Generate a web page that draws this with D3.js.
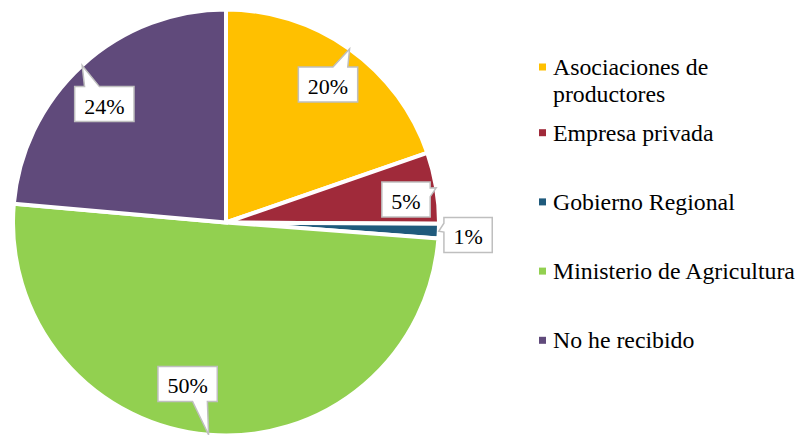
<!DOCTYPE html>
<html><head><meta charset="utf-8"><script src="https://cdn.jsdelivr.net/npm/d3@7"></script></head>
<body style="margin:0; font-family: 'Liberation Serif', Tinos, FreeSerif, serif;">
<svg id="piefig" width="803" height="435" style="font-family: 'Liberation Serif', Tinos, FreeSerif, serif;"></svg>
<script>
// ---- data ----
const categories = ["Asociaciones de productores", "Empresa privada", "Gobierno Regional", "Ministerio de Agricultura", "No he recibido"];
const legendLines = [["Asociaciones de", "productores"], ["Empresa privada"], ["Gobierno Regional"], ["Ministerio de Agricultura"], ["No he recibido"]];
const values = [19.7, 5.4, 1.1, 50.2, 23.6];
const colors = ["#FFC000", "#A02A3A", "#1F5A7C", "#92D050", "#604A7B"];

// ---- layout (style) ----
const cx = 226, cy = 222.5, R = 213;
// label placement: [radius factor, angle offset in degrees]
const labelPlace = [[0.806, 1.0], [0.852, 2.1], [1.138, 0.6], [0.779, 8.7], [0.797, -3.3]];
const serifFamily = "'Liberation Serif', Tinos, FreeSerif, serif";

const svg = d3.select("#piefig");
const total = d3.sum(values);
const pie = d3.pie().sort(null).value(d => d)(values);
const arc = d3.arc().innerRadius(0).outerRadius(R);

const g = svg.append("g").attr("transform", `translate(${cx},${cy})`);
g.selectAll("path.wedge").data(pie).enter().append("path")
  .attr("class", "wedge")
  .attr("d", arc)
  .attr("fill", (d, i) => colors[i])
  .attr("stroke", "#fff")
  .attr("stroke-width", 4)
  .attr("stroke-linejoin", "miter");

function polar(a, r) { return [Math.sin(a) * r, -Math.cos(a) * r]; }

function calloutPath(l, t, r, b, xPos, yPos) {
  const w = r - l, h = b - t, hc = (l + r) / 2, vc = (t + b) / 2;
  const dxPos = xPos - hc, dyPos = yPos - vc;
  const dq = dxPos * h / w;
  const dz = Math.abs(dyPos) - Math.abs(dq);
  const xg1 = dxPos > 0 ? 7 : 2, xg2 = dxPos > 0 ? 10 : 5;
  const yg1 = dyPos > 0 ? 7 : 2, yg2 = dyPos > 0 ? 10 : 5;
  const x1 = l + w * xg1 / 12, x2 = l + w * xg2 / 12;
  const y1 = t + h * yg1 / 12, y2 = t + h * yg2 / 12;
  const p = d3.path();
  p.moveTo(l, t);
  if (dz > 0 && dyPos < 0) { p.lineTo(x1, t); p.lineTo(xPos, yPos); p.lineTo(x2, t); }
  p.lineTo(r, t);
  if (dz <= 0 && dxPos > 0) { p.lineTo(r, y1); p.lineTo(xPos, yPos); p.lineTo(r, y2); }
  p.lineTo(r, b);
  if (dz > 0 && dyPos > 0) { p.lineTo(x2, b); p.lineTo(xPos, yPos); p.lineTo(x1, b); }
  p.lineTo(l, b);
  if (dz <= 0 && dxPos < 0) { p.lineTo(l, y2); p.lineTo(xPos, yPos); p.lineTo(l, y1); }
  p.closePath();
  return p.toString();
}

const labels = g.append("g");
pie.forEach((d, i) => {
  const mid = (d.startAngle + d.endAngle) / 2;
  const [tx, ty] = polar(mid, R);
  const [fr, off] = labelPlace[i];
  const [bx, by] = polar(mid + off * Math.PI / 180, R * fr);
  const txt = Math.round(d.value / total * 100) + "%";
  const tw = ((txt.length - 1) * 0.5 + 0.833) * 22;
  const bw = tw + 19, bh = 35;
  labels.append("path")
    .attr("d", calloutPath(bx - bw / 2, by - bh / 2, bx + bw / 2, by + bh / 2, tx, ty))
    .attr("fill", "#fff")
    .attr("stroke", "#BFBFBF")
    .attr("stroke-width", 1.5)
    .attr("stroke-linejoin", "miter");
  labels.append("text")
    .attr("x", bx).attr("y", by + 9.5)
    .attr("text-anchor", "middle")
    .style("font-family", serifFamily)
    .attr("font-size", 22)
    .attr("fill", "#000")
    .text(txt);
});

// ---- legend ----
const legX = 539, legTextX = 553, lineH = 27;
const legBase = i => i === 0 ? 75 : 140.7 + (i - 1) * 69.2;
categories.forEach((c, i) => {
  const y = legBase(i);
  svg.append("rect")
    .attr("x", legX).attr("y", y - 11.5)
    .attr("width", 7).attr("height", 7)
    .attr("fill", colors[i]);
  legendLines[i].forEach((ln, k) => {
    svg.append("text")
      .attr("x", legTextX).attr("y", y + k * lineH)
      .style("font-family", serifFamily)
      .attr("font-size", 23.8)
      .attr("fill", "#000")
      .text(ln);
  });
});
</script>
</body>
</html>
